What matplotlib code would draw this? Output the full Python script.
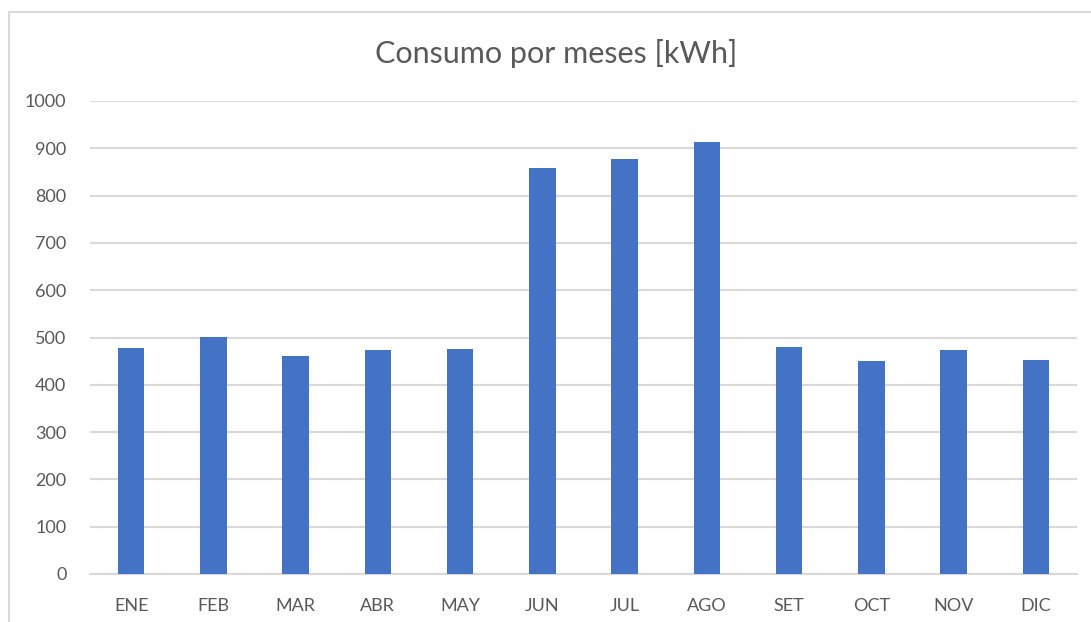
import matplotlib
matplotlib.use("Agg")
import matplotlib.pyplot as plt
from matplotlib.patches import Rectangle

plt.rcParams['font.family'] = ['Lato', 'DejaVu Sans']

meses = ['ENE', 'FEB', 'MAR', 'ABR', 'MAY', 'JUN', 'JUL', 'AGO', 'SET', 'OCT', 'NOV', 'DIC']
consumo = [477, 502, 461, 473, 475, 859, 878, 913, 480, 450, 473, 453]
yticks = [0, 100, 200, 300, 400, 500, 600, 700, 800, 900, 1000]

W, H = 1091, 622
fig = plt.figure(figsize=(W / 100, H / 100), dpi=100)

# marco del grafico (estilo Excel)
fig.patches.append(Rectangle((9 / W, -0.05), 1.1, 1 - 12 / H + 0.05, transform=fig.transFigure,
                             fill=False, edgecolor='#d9d9d9', linewidth=1.5))

ax = fig.add_axes([90 / W, 1 - 574 / H, (1077 - 90) / W, (574 - 101) / H])
x = range(len(meses))
ax.bar(x, consumo, width=0.32, color='#4472C4', zorder=3)

ax.set_ylim(0, 1000)
ax.set_xlim(-0.5, len(meses) - 0.5)
ax.set_yticks(yticks)
ax.set_xticks(list(x))
ax.set_xticklabels(meses)
ax.grid(axis='y', color='#d9d9d9', linewidth=1.5, zorder=0)
for s in ['top', 'right', 'left']:
    ax.spines[s].set_visible(False)
ax.spines['bottom'].set_color('#d9d9d9')
ax.spines['bottom'].set_linewidth(1.5)
ax.tick_params(axis='both', length=0, labelsize=13, colors='#595959')
ax.tick_params(axis='x', pad=17)
ax.tick_params(axis='y', pad=17)

fig.text(556 / W, 1 - 54 / H, 'Consumo por meses [kWh]', ha='center', va='center',
         fontsize=22, color='#595959')

fig.savefig('out.png', dpi=100)
